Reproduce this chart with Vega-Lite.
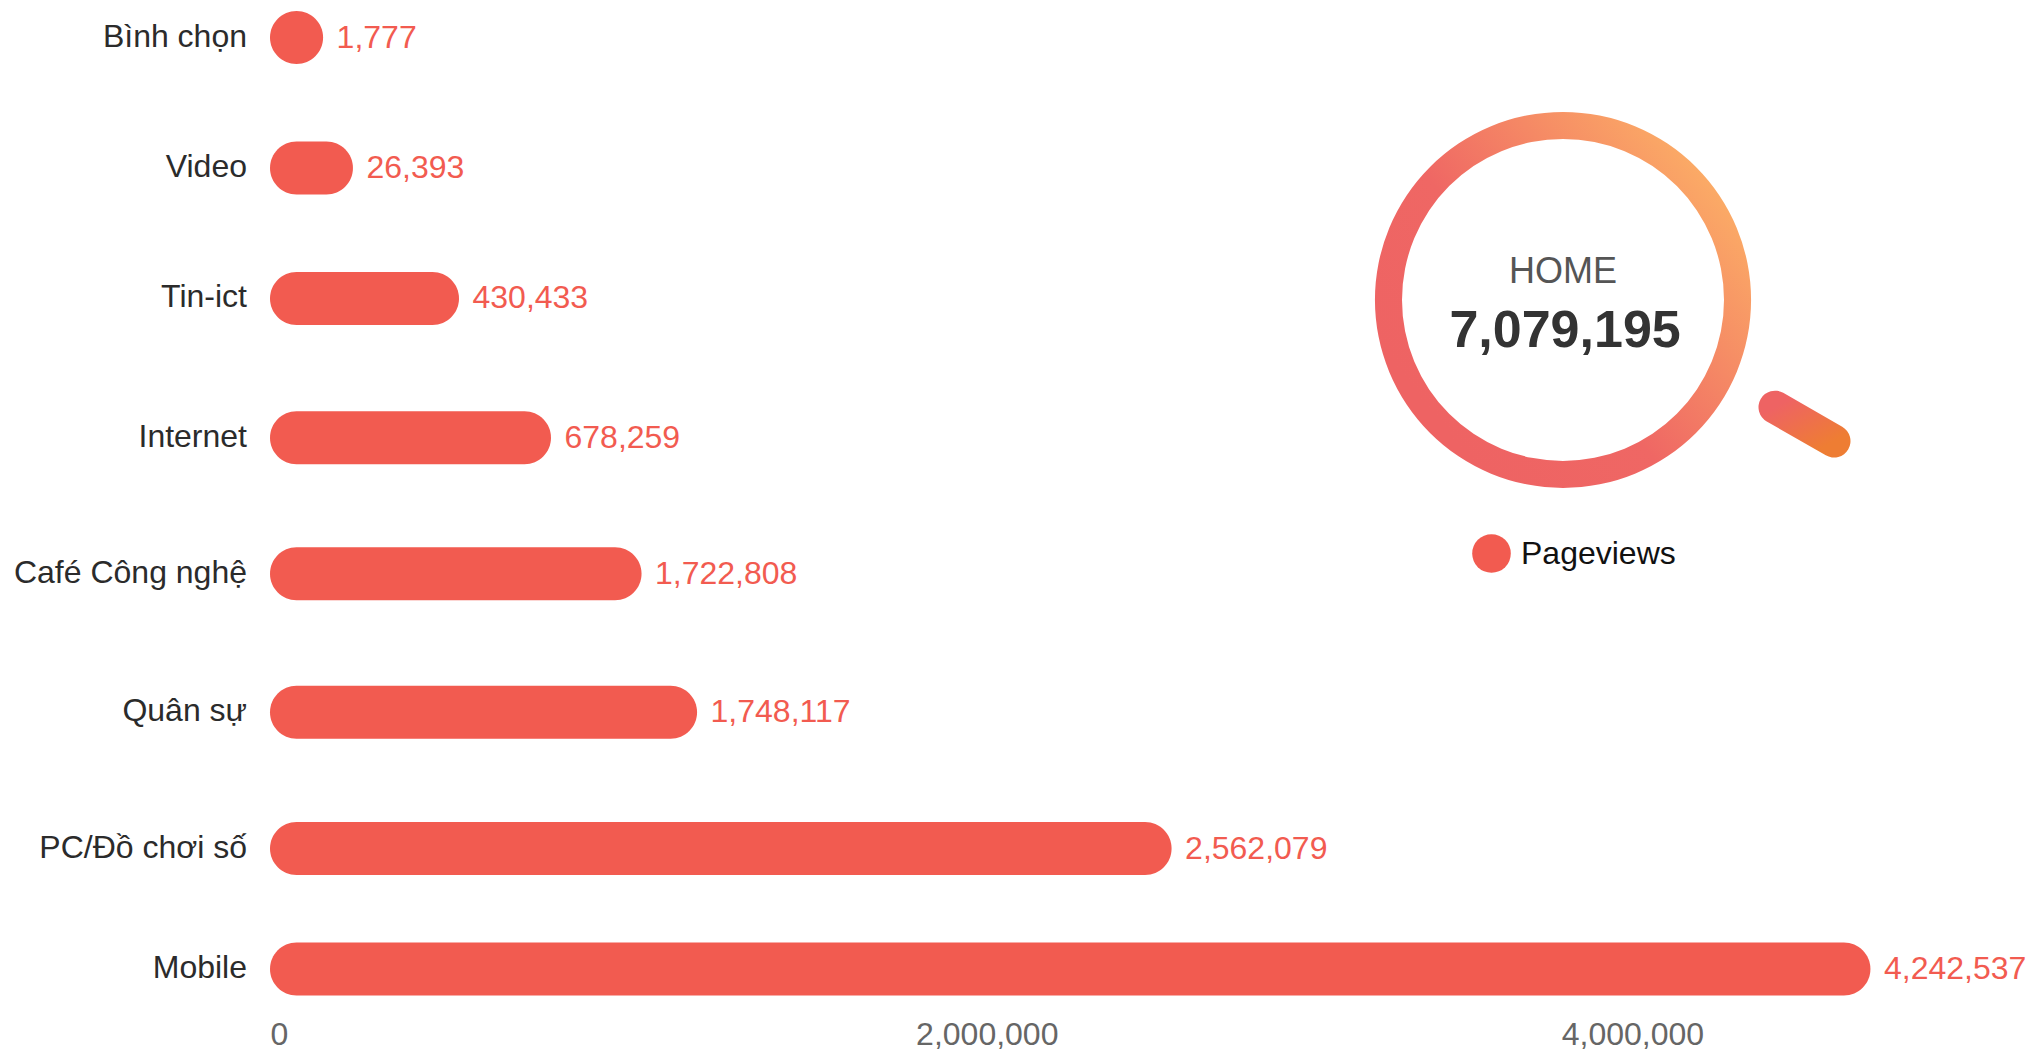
{
"$schema":"https://vega.github.io/schema/vega-lite/v6.json",
"width":1761,"height":1012,
"autosize":"none",
"padding":{"left":270,"top":0,"right":0,"bottom":39},
"background":"#ffffff",
"config":{"view":{"stroke":null},"font":"Liberation Sans"},
"datasets":{
"bars":[
{"category":"Bình chọn","rank":1,"barLength":164500,"pageviews":1777,"series":"Pageviews"},
{"category":"Video","rank":2,"barLength":257000,"pageviews":26393,"series":"Pageviews"},
{"category":"Tin-ict","rank":3,"barLength":585500,"pageviews":430433,"series":"Pageviews"},
{"category":"Internet","rank":4,"barLength":870500,"pageviews":678259,"series":"Pageviews"},
{"category":"Café Công nghệ","rank":5,"barLength":1151000,"pageviews":1722808,"series":"Pageviews"},
{"category":"Quân sự","rank":6,"barLength":1323000,"pageviews":1748117,"series":"Pageviews"},
{"category":"PC/Đồ chơi số","rank":7,"barLength":2793000,"pageviews":2562079,"series":"Pageviews"},
{"category":"Mobile","rank":8,"barLength":4958000,"pageviews":4242537,"series":"Pageviews"}
],
"total":[{"label":"HOME","total":7079195}]
},
"data":{"name":"bars"},
"layer":[
{"mark":{"type":"bar","orient":"horizontal","size":53,"cornerRadius":26.5},
"encoding":{
"x":{"field":"barLength","type":"quantitative","stack":null,"title":null,
"scale":{"domain":[0,5455400],"nice":false,"zero":true,"padding":0},
"axis":{"values":[0,2000000,4000000],"format":",d","labelAlign":"left","labelBaseline":"top","labelPadding":7,"labelFontSize":32,"labelColor":"#666666","labelFont":"Liberation Sans","domain":false,"ticks":false,"grid":false,"title":null,"labelOverlap":false,"labelBound":false,"labelFlush":false}},
"y":{"field":"rank","type":"quantitative","title":null,
"scale":{"domain":[1,2,3,4,5,6,7,8],"range":[37.5,168,298.4,437.8,573.8,712.3,848.5,968.9],"nice":false,"zero":false,"padding":0},
"axis":null},
"color":{"field":"series","type":"nominal","scale":{"range":["#F25B50"]},
"legend":{"title":null,"orient":"none","legendX":1202,"legendY":534,"padding":0,"symbolType":"circle","symbolSize":1490,"symbolStrokeWidth":0,"labelFontSize":32,"labelFont":"Liberation Sans","labelColor":"#111111","labelOffset":10}}
}},
{"mark":{"type":"text","align":"right","baseline":"middle","dx":-23,"dy":-1,"fontSize":32,"color":"#2b2b2b"},
"encoding":{"x":{"datum":0,"type":"quantitative"},"y":{"field":"rank","type":"quantitative"},"text":{"field":"category","type":"nominal"}}},
{"mark":{"type":"text","align":"left","baseline":"middle","dx":13.5,"fontSize":32,"color":"#F25B50"},
"encoding":{"x":{"field":"barLength","type":"quantitative"},"y":{"field":"rank","type":"quantitative"},"text":{"field":"pageviews","type":"quantitative","format":",d"}}},
{"data":{"name":"total"},
"mark":{"type":"arc","radius":188,"radius2":161,"theta":0,"theta2":6.2832,
"fill":{"gradient":"linear","x1":0.15,"y1":0.8,"x2":0.9,"y2":0.2,"stops":[{"offset":0,"color":"#EE6363"},{"offset":0.4,"color":"#EF6764"},{"offset":1,"color":"#FBAA66"}]}},
"encoding":{"x":{"datum":4005600,"type":"quantitative"},"y":{"datum":3.011,"type":"quantitative"}}},
{"data":{"name":"total"},
"mark":{"type":"rule","strokeWidth":33,"strokeCap":"round",
"stroke":{"gradient":"linear","x1":0,"y1":0,"x2":1,"y2":1,"stops":[{"offset":0,"color":"#EE6363"},{"offset":1,"color":"#EE7D33"}]}},
"encoding":{"x":{"datum":4662300,"type":"quantitative"},"x2":{"datum":4845100},"y":{"datum":3.78,"type":"quantitative"},"y2":{"datum":4.024}}},
{"data":{"name":"total"},
"mark":{"type":"text","align":"center","baseline":"middle","fontSize":36,"color":"#555555"},
"encoding":{"x":{"datum":4005600,"type":"quantitative"},"y":{"datum":2.797,"type":"quantitative"},"text":{"field":"label","type":"nominal"}}},
{"data":{"name":"total"},
"mark":{"type":"text","align":"center","baseline":"middle","fontSize":52,"fontWeight":"bold","color":"#333333"},
"encoding":{"x":{"datum":4012000,"type":"quantitative"},"y":{"datum":3.234,"type":"quantitative"},"text":{"field":"total","type":"quantitative","format":",d"}}}
]
}
